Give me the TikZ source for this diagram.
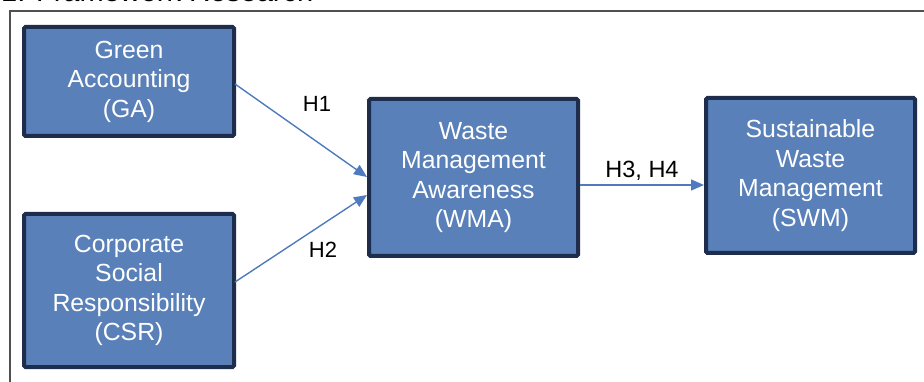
\documentclass[tikz,border=0pt]{standalone}
\usepackage{fontspec}
\setmainfont{Liberation Sans}
\usetikzlibrary{arrows.meta,calc}
\definecolor{boxfill}{RGB}{89,128,184}
\definecolor{boxline}{RGB}{30,45,75}
\definecolor{arrowc}{RGB}{79,123,190}
\definecolor{framec}{RGB}{80,80,80}
\tikzset{
  box/.style={draw=boxline, line width=4pt, fill=boxfill, rounded corners=1.5pt,
    text=white, align=center, font=\fontsize{24.8}{29.5}\selectfont, inner sep=0pt},
  link/.style={draw=arrowc, line width=1.4pt, -{Triangle[length=13pt,width=11pt]}},
  hlabel/.style={font=\fontsize{22}{26}\selectfont, text=black, inner sep=0pt},
}
\begin{document}
\begin{tikzpicture}[x=1pt,y=-1pt]
\useasboundingbox (0,0) rectangle (924,382);
\clip (0,0) rectangle (924,382);
\node[anchor=base west, font=\fontsize{29}{34}\selectfont, inner sep=0pt] (title) at (1,2) {1. Framework Research};
\draw[framec, line width=1.5pt] (10,383) -- (10,11) -- (926,11);
\node[box, minimum width=210pt, minimum height=109pt] (GA) at (129,81.5) {Green\\Accounting\\(GA)};
\node[box, minimum width=210pt, minimum height=153pt] (CSR) at (129,290.5) {Corporate\\Social\\Responsibility\\(CSR)};
\node[box, minimum width=209pt, minimum height=157pt] (WMA) at (473.5,177.5) {Waste\\Management\\Awareness\\(WMA)};
\node[box, minimum width=209pt, minimum height=155pt] (SWM) at (810.5,175.5) {Sustainable\\Waste\\Management\\(SWM)};
\draw[link] ($(GA.east)+(-1,2.5)$) -- ($(WMA.west)+(0,-0.5)$);
\draw[link] ($(CSR.east)+(-1,-8.5)$) -- ($(WMA.west)+(0,17.5)$);
\draw[link] ($(WMA.east)+(0,7.5)$) -- ($(SWM.west)+(0,9.5)$);
\node[hlabel] (h1) at (317,104) {H1};
\node[hlabel] (h2) at (323,250) {H2};
\node[hlabel, font=\fontsize{23.5}{28}\selectfont] (h34) at (642,171) {H3, H4};
\end{tikzpicture}
\end{document}
